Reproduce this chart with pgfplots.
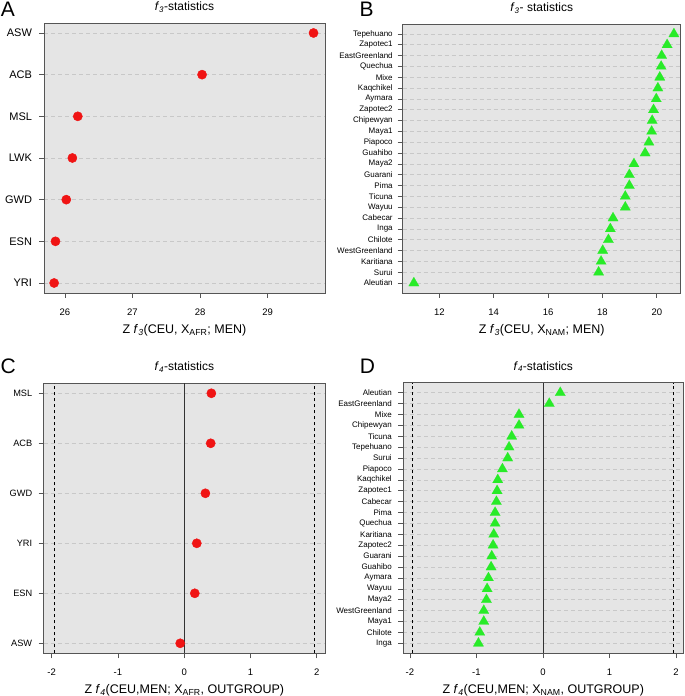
\documentclass[border=0pt]{standalone}
\usepackage{fontspec}
\setmainfont{Liberation Sans}
\usepackage{pgfplots}
\usepackage{pgfplotstable}
\pgfplotsset{compat=1.18}

\definecolor{bg}{RGB}{229,229,229}
\definecolor{axcol}{RGB}{85,85,85}
\definecolor{gridcol}{RGB}{200,200,200}
\definecolor{myred}{RGB}{240,20,20}
\definecolor{mygreen}{RGB}{40,235,40}

\pgfplotstableread{
pos val name
1 25.84 YRI
2 25.86 ESN
3 26.02 GWD
4 26.11 LWK
5 26.19 MSL
6 28.03 ACB
7 29.68 ASW
}\tabA

\pgfplotstableread{
pos val name
1 11.06 Aleutian
2 17.86 Surui
3 17.95 Karitiana
4 18.01 WestGreenland
5 18.22 Chilote
6 18.29 Inga
7 18.39 Cabecar
8 18.84 Wayuu
9 18.84 Ticuna
10 18.99 Pima
11 18.99 Guarani
12 19.16 Maya2
13 19.57 Guahibo
14 19.71 Piapoco
15 19.81 Maya1
16 19.83 Chipewyan
17 19.88 Zapotec2
18 19.98 Aymara
19 20.04 Kaqchikel
20 20.11 Mixe
21 20.16 Quechua
22 20.18 EastGreenland
23 20.38 Zapotec1
24 20.63 Tepehuano
}\tabB

\pgfplotstableread{
pos val name
1 -0.06 ASW
2 0.16 ESN
3 0.19 YRI
4 0.32 GWD
5 0.40 ACB
6 0.41 MSL
}\tabC

\pgfplotstableread{
pos val name
1 -0.97 Inga
2 -0.95 Chilote
3 -0.89 Maya1
4 -0.89 WestGreenland
5 -0.85 Maya2
6 -0.84 Wayuu
7 -0.82 Aymara
8 -0.78 Guahibo
9 -0.77 Guarani
10 -0.75 Zapotec2
11 -0.74 Karitiana
12 -0.72 Quechua
13 -0.72 Pima
14 -0.70 Cabecar
15 -0.69 Zapotec1
16 -0.68 Kaqchikel
17 -0.61 Piapoco
18 -0.53 Surui
19 -0.51 Tepehuano
20 -0.47 Ticuna
21 -0.36 Chipewyan
22 -0.36 Mixe
23 0.095 EastGreenland
24 0.26 Aleutian
}\tabD

\pgfplotsset{
  panel/.style={
    scale only axis,
    anchor=south west,
    axis background/.style={fill=bg},
    axis line style={axcol, line width=0.8pt},
    tick style={axcol, line width=0.6pt},
    tick align=outside,
    major tick length=5pt,
    xtick pos=left, ytick pos=left,
    ymajorgrids,
    major grid style={gridcol, line width=0.6pt, dash pattern=on 4pt off 3pt},
    /pgf/number format/assume math mode=true,
    xticklabel style={font=\fontsize{9.5}{10}\selectfont, yshift=-7.5pt},
    title style={at={(0.5,1)}, anchor=center, yshift=10pt, font=\fontsize{12}{13}\selectfont},
    xlabel style={at={(0.5,0)}, anchor=center, yshift=-37pt, font=\fontsize{12.5}{13}\selectfont},
  },
}

\newcommand{\fsub}[1]{\textit{f}\textsubscript{\textit{#1}}}

\begin{document}
\begin{tikzpicture}
\path[use as bounding box] (0pt,0pt) rectangle (685pt,696pt);

% Panel A
\begin{axis}[panel,
  at={(44pt,403pt)}, width=281pt, height=270pt,
  xmin=25.69, xmax=29.85, ymin=0.76, ymax=7.24,
  xtick={26,27,28,29},
  ytick={1,...,7},
  yticklabels={YRI,ESN,GWD,LWK,MSL,ACB,ASW},
  yticklabel style={font=\fontsize{11}{12}\selectfont, xshift=-3.5pt},
  title={\fsub{3}-statistics},
  xlabel={Z \fsub{3}(CEU, X\textsubscript{AFR}; MEN)},
]
\addplot[only marks, mark=*, mark size=4.6pt, color=myred] table[x=val, y=pos] {\tabA};
\end{axis}

% Panel B
\begin{axis}[panel,
  at={(402.7pt,403pt)}, width=278pt, height=269pt,
  xmin=10.65, xmax=20.88, ymin=0.08, ymax=24.92,
  xtick={12,14,16,18,20},
  ytick={1,...,24},
  yticklabels={Aleutian,Surui,Karitiana,WestGreenland,Chilote,Inga,Cabecar,Wayuu,Ticuna,Pima,Guarani,Maya2,Guahibo,Piapoco,Maya1,Chipewyan,Zapotec2,Aymara,Kaqchikel,Mixe,Quechua,EastGreenland,Zapotec1,Tepehuano},
  yticklabel style={font=\fontsize{8}{9}\selectfont, xshift=-1.5pt},
  title={\fsub{3}- statistics},
  xlabel={Z \fsub{3}(CEU, X\textsubscript{NAM}; MEN)},
]
\addplot[only marks, mark=triangle*, mark size=6pt, color=mygreen, mark options={line width=0.1pt}] table[x=val, y=pos] {\tabB};
\end{axis}

% Panel C
\begin{axis}[panel,
  at={(43.7pt,42.7pt)}, width=281.3pt, height=270pt,
  xmin=-2.12, xmax=2.125, ymin=0.8, ymax=6.2,
  xtick={-2,-1,0,1,2},
  ytick={1,...,6},
  yticklabels={ASW,ESN,YRI,GWD,ACB,MSL},
  yticklabel style={font=\fontsize{9.2}{10}\selectfont, xshift=-3pt},
  title={\fsub{4}-statistics},
  xlabel={Z \fsub{4}(CEU,MEN; X\textsubscript{AFR}, OUTGROUP)},
]
\addplot[black, line width=0.7pt, dash pattern=on 3pt off 3pt] coordinates {(-1.96,0.8) (-1.96,6.2)};
\addplot[black, line width=0.7pt, dash pattern=on 3pt off 3pt] coordinates {(1.96,0.8) (1.96,6.2)};
\addplot[black!80, line width=0.7pt] coordinates {(0,0.8) (0,6.2)};
\addplot[only marks, mark=*, mark size=4.6pt, color=myred] table[x=val, y=pos] {\tabC};
\end{axis}

% Panel D
\begin{axis}[panel,
  at={(403.3pt,42.7pt)}, width=280pt, height=270.6pt,
  xmin=-2.1, xmax=2.11, ymin=0.08, ymax=24.92,
  xtick={-2,-1,0,1,2},
  ytick={1,...,24},
  yticklabels={Inga,Chilote,Maya1,WestGreenland,Maya2,Wayuu,Aymara,Guahibo,Guarani,Zapotec2,Karitiana,Quechua,Pima,Cabecar,Zapotec1,Kaqchikel,Piapoco,Surui,Tepehuano,Ticuna,Chipewyan,Mixe,EastGreenland,Aleutian},
  yticklabel style={font=\fontsize{8}{9}\selectfont, xshift=-3pt},
  title={\fsub{4}-statistics},
  xlabel={Z \fsub{4}(CEU,MEN; X\textsubscript{NAM}, OUTGROUP)},
]
\addplot[black, line width=0.7pt, dash pattern=on 3pt off 3pt] coordinates {(-1.96,0.08) (-1.96,24.92)};
\addplot[black, line width=0.7pt, dash pattern=on 3pt off 3pt] coordinates {(1.96,0.08) (1.96,24.92)};
\addplot[black!80, line width=0.7pt] coordinates {(0,0.08) (0,24.92)};
\addplot[only marks, mark=triangle*, mark size=6pt, color=mygreen, mark options={line width=0.1pt}] table[x=val, y=pos] {\tabD};
\end{axis}

% Panel letters
\node[font=\fontsize{21}{22}\selectfont, inner sep=0pt] at (8pt,686.5pt) {A};
\node[font=\fontsize{21}{22}\selectfont, inner sep=0pt] at (366.5pt,687pt) {B};
\node[font=\fontsize{21}{22}\selectfont, inner sep=0pt] at (8.3pt,330pt) {C};
\node[font=\fontsize{21}{22}\selectfont, inner sep=0pt] at (367.5pt,330pt) {D};
\end{tikzpicture}
\end{document}
